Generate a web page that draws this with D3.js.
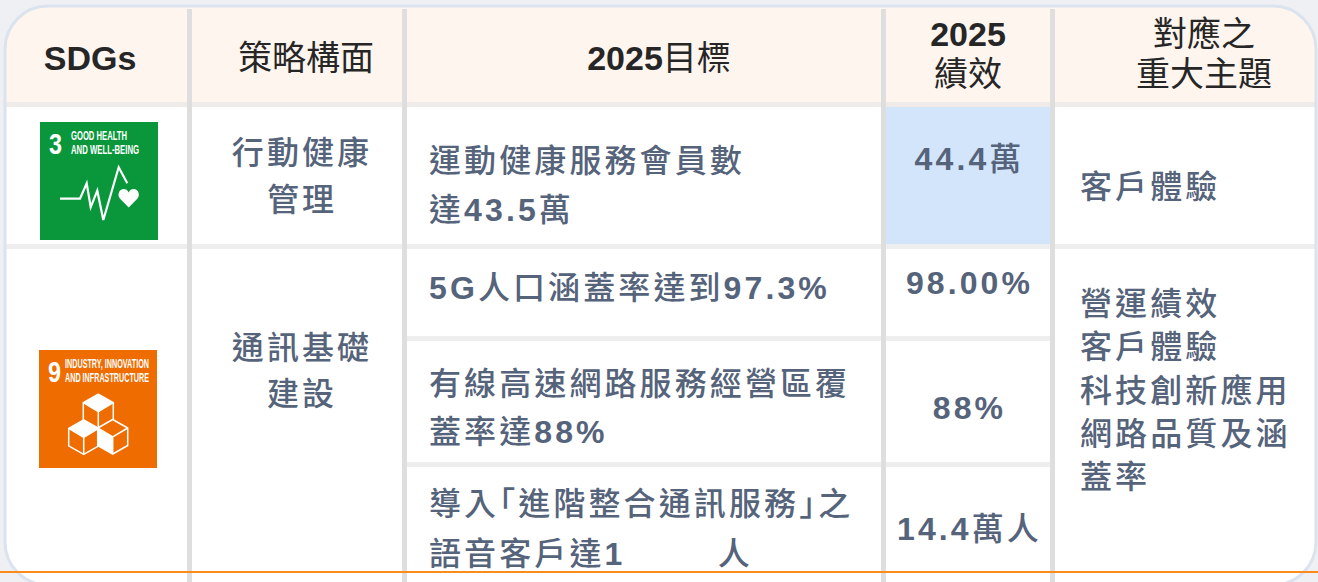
<!DOCTYPE html>
<html>
<head>
<meta charset="utf-8">
<script src="https://cdn.jsdelivr.net/npm/d3@7"></script>
<style>
  html, body { margin: 0; padding: 0; background: #eef0f3; overflow: hidden; }
  text { font-family: "Liberation Sans", "Noto Sans CJK TC", sans-serif; }
</style>
</head>
<body>
<div id="wrapper"></div>
<script>
// 1. Table content
const columns = ['sdg', 'strategy', 'target', 'result', 'topic']
const headerLines = [['SDGs'], ['策略構面'], ['2025目標'], ['2025', '績效'], ['對應之', '重大主題']]
const rowKeys = ['health', 'fiveG', 'cable', 'voice']
const strategyNames = [['行動健康', '管理'], ['通訊基礎', '建設']]
const targetLines = [
  ['運動健康服務會員數', '達43.5萬'],
  ['5G人口涵蓋率達到97.3%'],
  ['有線高速網路服務經營區覆', '蓋率達88%'],
  ['導入「進階整合通訊服務」之', '語音客戶達1\u00a0\u00a0\u00a0\u00a0\u00a0\u00a0\u00a0\u2006人'],
]
const resultValues = ['44.4萬', '98.00%', '88%', '14.4萬人']
const topicLines = [['客戶體驗'], ['營運績效', '客戶體驗', '科技創新應用', '網路品質及涵', '蓋率']]
const sdgTitles = [['GOOD HEALTH', 'AND WELL-BEING'], ['INDUSTRY, INNOVATION', 'AND INFRASTRUCTURE']]
const sdgNumbers = ['3', '9']

// icon artwork, in pixels of a 118 square tile
const heartbeat = [[20, 76.7], [40, 76.7], [46.7, 61.3], [50.7, 85.3], [57.3, 68.7], [63.3, 98], [78.7, 45.3], [87.3, 61.3]]
const cubeCentres = [[59.3, 61.7], [44.7, 87.3], [73.7, 87]]

// 2. Dimensions
const dimensions = { width: 1318, height: 582 }
const panel = { x: 5, y: 6, width: 1311, height: 579, radius: 43 }
const columnLeft = d3.scaleOrdinal().domain(columns).range([5, 192, 407, 886, 1055])
const columnRight = d3.scaleOrdinal().domain(columns).range([187, 402, 881, 1050, 1315])
const rowTop = d3.scaleOrdinal().domain(rowKeys).range([107, 249, 341, 467])
const rowBottom = d3.scaleOrdinal().domain(rowKeys).range([244, 336, 462, 590])

const wrapper = d3.select('#wrapper').append('svg')
  .attr('width', dimensions.width)
  .attr('height', dimensions.height)
  .style('display', 'block')

const panelRect = (parent) => parent.append('rect')
  .attr('x', panel.x).attr('y', panel.y)
  .attr('width', panel.width).attr('height', panel.height)
  .attr('rx', panel.radius)

panelRect(wrapper.append('defs').append('clipPath').attr('id', 'panel-clip'))

// 3. Panel and grid
panelRect(wrapper).attr('fill', '#fff')

const table = wrapper.append('g').attr('clip-path', 'url(#panel-clip)')
table.append('rect').attr('x', 5).attr('y', 6).attr('width', 1311).attr('height', 96).attr('fill', '#fef5ef')
table.append('rect').attr('x', 5).attr('y', 102).attr('width', 1311).attr('height', 5).attr('fill', '#eeebe8')
table.append('rect').attr('x', 5).attr('y', 244).attr('width', 1311).attr('height', 5).attr('fill', '#eeeeee')
table.selectAll('.row-line').data(rowKeys.slice(2)).join('rect')
  .attr('class', 'row-line')
  .attr('x', columnLeft('target'))
  .attr('width', columnRight('result') - columnLeft('target'))
  .attr('y', (d) => rowTop(d) - 5)
  .attr('height', 5)
  .attr('fill', '#eeeeee')

// the one highlighted result
table.append('rect')
  .attr('x', columnLeft('result'))
  .attr('y', rowTop('health'))
  .attr('width', columnRight('result') - columnLeft('result'))
  .attr('height', rowBottom('health') - rowTop('health'))
  .attr('fill', '#d3e5fb')

panelRect(wrapper).attr('fill', 'none').attr('stroke', '#dbe3ef').attr('stroke-width', 3)

wrapper.selectAll('.col-line').data(columns.slice(0, -1)).join('rect')
  .attr('class', 'col-line')
  .attr('x', (d) => columnRight(d))
  .attr('y', 9)
  .attr('width', 5)
  .attr('height', dimensions.height - 9)
  .attr('fill', '#dedede')

// 4. Text
// latin runs are bold, CJK runs take their own weight, corner brackets are set half width
function addLine(text, x, y, opts) {
  const node = wrapper.append('text')
    .attr('x', x)
    .attr('y', y)
    .attr('text-anchor', opts.anchor || 'start')
    .attr('fill', opts.color)
    .style('font-size', `${opts.size}px`)
    .style('letter-spacing', `${opts.spacing || 0}px`)
  text.match(/[\x21-\x7e]+|[「」]|[^\x21-\x7e「」]+/g).forEach((run) => {
    const tspan = node.append('tspan')
      .attr('font-weight', /^[\x21-\x7e]/.test(run) ? 700 : opts.cjkWeight)
      .text(run)
    if (/[「」]/.test(run)) tspan.style('font-feature-settings', '"halt"')
  })
}

const headerStyle = { color: '#262626', size: 34, cjkWeight: 400, anchor: 'middle' }
const headerCentres = [90, 306, 659, 968, 1204]
const headerBaselines = { 1: [70], 2: [46, 86] }
headerLines.forEach((lines, i) => {
  lines.forEach((line, j) => addLine(line, headerCentres[i], headerBaselines[lines.length][j], headerStyle))
})

const bodyStyle = { color: '#55637b', size: 32, spacing: 3.1, cjkWeight: 500 }
const bodyCentred = { ...bodyStyle, anchor: 'middle' }

strategyNames.forEach((lines, i) => {
  const baselines = [[164, 211], [359, 405]][i]
  lines.forEach((line, j) => addLine(line, 302, baselines[j], bodyCentred))
})

const targetBaselines = [[172, 221], [299], [395, 443], [515, 565]]
targetLines.forEach((lines, i) => {
  lines.forEach((line, j) => addLine(line, 429, targetBaselines[i][j], bodyStyle))
})

const resultBaselines = [170, 294, 419, 540]
resultValues.forEach((value, i) => addLine(value, 969.5, resultBaselines[i], bodyCentred))

const topicBaselines = [[198], [315, 358, 402, 445, 488]]
topicLines.forEach((lines, i) => {
  lines.forEach((line, j) => addLine(line, 1080, topicBaselines[i][j], bodyStyle))
})

// 5. SDG tiles
const tileSize = 118
const tileX = d3.scaleOrdinal().domain(sdgNumbers).range([40, 39])
const tileY = d3.scaleOrdinal().domain(sdgNumbers).range([122, 350])
const tileColour = d3.scaleOrdinal().domain(sdgNumbers).range(['#0a973c', '#ef6c00'])

sdgNumbers.forEach((number, i) => {
  const tile = wrapper.append('g')
    .attr('transform', `translate(${tileX(number)}, ${tileY(number)})`)
  tile.append('rect').attr('width', tileSize).attr('height', tileSize).attr('fill', tileColour(number))
  tile.append('text').attr('x', 9).attr('y', 32)
    .attr('fill', '#fff').attr('font-weight', 700)
    .attr('textLength', 13).attr('lengthAdjust', 'spacingAndGlyphs')
    .style('font-size', '29px')
    .text(number)
  const titleWidths = i ? [84, 84] : [56, 68]
  sdgTitles[i].forEach((line, j) => {
    tile.append('text').attr('x', i ? 26 : 31).attr('y', 18 + j * 14)
      .attr('fill', '#fff').attr('font-weight', 700)
      .attr('textLength', titleWidths[j]).attr('lengthAdjust', 'spacingAndGlyphs')
      .style('font-size', '12px')
      .text(line)
  })
})

const healthTile = wrapper.append('g').attr('transform', `translate(${tileX('3')}, ${tileY('3')})`)
healthTile.append('path')
  .attr('d', d3.line()(heartbeat))
  .attr('fill', 'none').attr('stroke', '#fff').attr('stroke-width', 2.2)
healthTile.append('path')
  .attr('transform', 'translate(88.7, 76)')
  .attr('d', 'M0,9.5 L-8.6,0.8 C-12,-3 -9.5,-9 -5,-9 C-2.8,-9 -1,-7.8 0,-5.6 C1,-7.8 2.8,-9 5,-9 C9.5,-9 12,-3 8.6,0.8 Z')
  .attr('fill', '#fff')

const cubeTile = wrapper.append('g').attr('transform', `translate(${tileX('9')}, ${tileY('9')})`)
const hex = [[0, -17.5], [15, -9], [15, 8.5], [0, 17], [-15, 8.5], [-15, -9]]
const line = d3.line()
cubeCentres.forEach((centre, i) => {
  const cube = cubeTile.append('g').attr('transform', `translate(${centre[0]}, ${centre[1]})`)
  const filled = i === 2
    ? [[0, 0], [0, 17], [-15, 8.5], [-15, -9]]
    : [[0, 0], [-15, -9], [0, -17.5], [15, -9]]
  cube.append('path').attr('d', `${line(hex)}Z`).attr('fill', tileColour('9'))
    .attr('stroke', '#fff').attr('stroke-width', 1.5).attr('stroke-linejoin', 'round')
  cube.append('path').attr('d', `${line(filled)}Z`).attr('fill', '#fff')
  cube.append('path').attr('d', 'M-15,-9 L0,0 L15,-9 M0,0 L0,17')
    .attr('fill', 'none').attr('stroke', '#fff').attr('stroke-width', 1.5)
})

// 6. Orange rule across the bottom
wrapper.append('rect').attr('x', 0).attr('y', 571).attr('width', dimensions.width).attr('height', 2).attr('fill', '#fb8c1c')
</script>
</body>
</html>
